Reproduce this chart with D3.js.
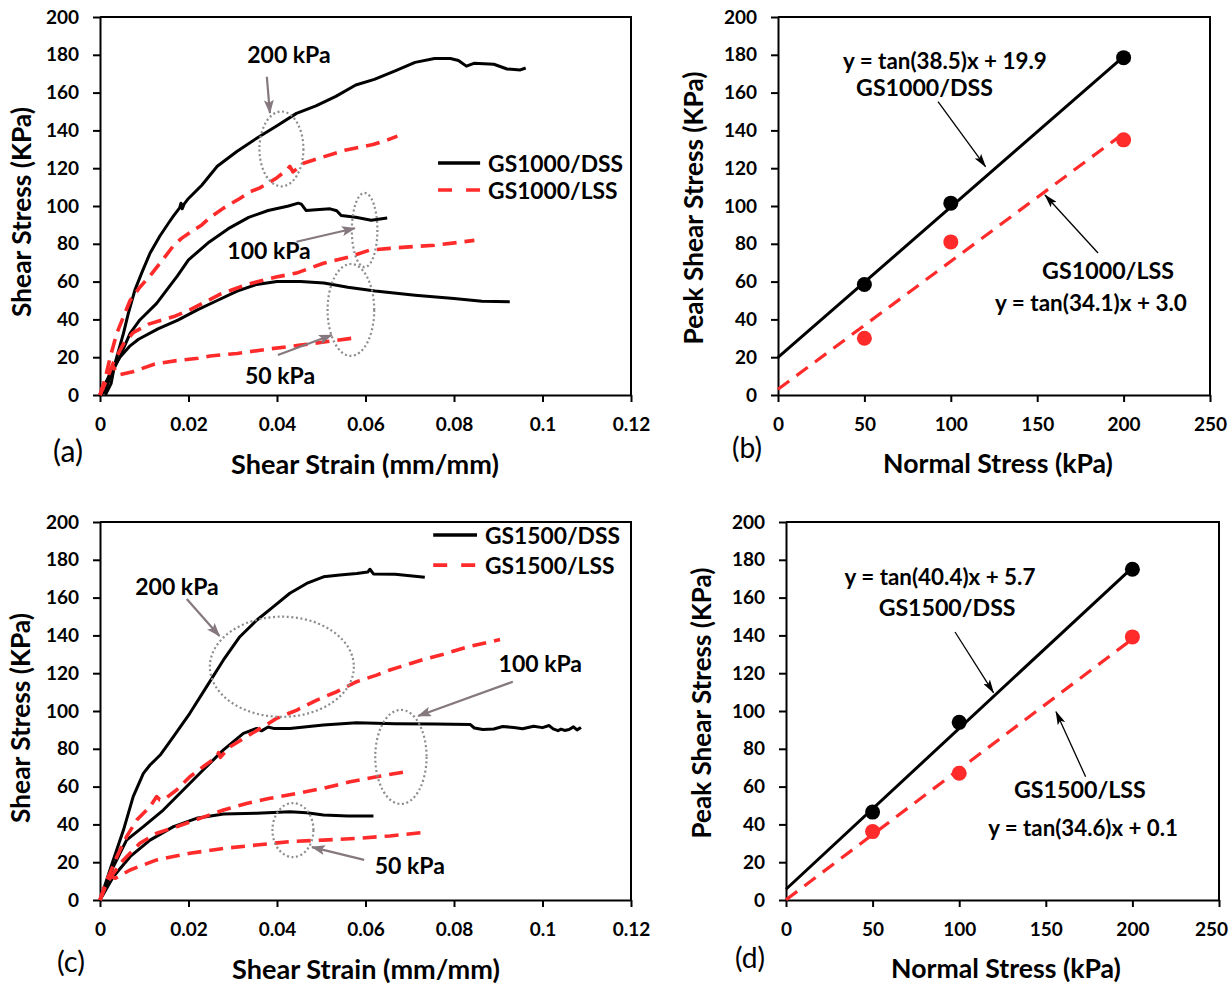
<!DOCTYPE html>
<html><head><meta charset="utf-8">
<script src="https://cdn.jsdelivr.net/npm/d3@7"></script>
<style>body{margin:0;background:#fff;} svg{display:block;}</style>
</head><body><svg id="c" width="1230" height="985"></svg>
<script>
// ---------------- DATA ----------------
const strainTicks = [0, 0.02, 0.04, 0.06, 0.08, 0.1, 0.12];
const strainTickLabels = ["0", "0.02", "0.04", "0.06", "0.08", "0.1", "0.12"];
const stressTicks = [0, 20, 40, 60, 80, 100, 120, 140, 160, 180, 200];
const normalTicks = [0, 50, 100, 150, 200, 250];

// Panel (a): GS1000 stress-strain curves [strain, stress]
const a_dss200 = [[0.0012,0],[0.0025,6],[0.0034,16.9],[0.0053,32.6],[0.0064,43.2],[0.0079,55.6],[0.0095,65],[0.0113,75],[0.0135,84],[0.0155,91],[0.0167,95],[0.018,99],[0.0183,101.5],[0.0186,98.5],[0.019,101],[0.02,104],[0.023,111],[0.0265,121],[0.031,129],[0.0355,136],[0.04,142.5],[0.0444,149],[0.0488,153],[0.0533,158],[0.0578,164],[0.062,167],[0.0667,171.5],[0.0712,176],[0.0756,178],[0.0792,178],[0.081,177],[0.0828,174],[0.0845,175.5],[0.089,175],[0.092,172.5],[0.095,172],[0.0962,173]];
const a_dss100 = [[0,0],[0.0012,2],[0.0023,9.7],[0.0045,20.3],[0.0068,32.6],[0.009,39.7],[0.0128,48.5],[0.0151,55.6],[0.0175,63],[0.02,71.5],[0.0247,81],[0.029,88],[0.0336,94],[0.038,97.6],[0.0426,100],[0.0448,101.5],[0.0455,101],[0.0466,97.6],[0.0488,98],[0.052,98.5],[0.0535,97.5],[0.0545,95],[0.0578,94],[0.0613,92.5],[0.0649,93.6]];
const a_dss50 = [[0,0],[0.0024,12],[0.0045,20],[0.0068,26],[0.0087,29.5],[0.0131,35],[0.0176,39.6],[0.022,45],[0.0265,50],[0.031,55],[0.0354,58.5],[0.04,60],[0.0453,60],[0.0506,59.3],[0.056,57],[0.0622,55],[0.0712,52.8],[0.08,51],[0.0863,49.6],[0.0926,49.3]];
const a_lss200 = [[0,0],[0.0011,8],[0.0023,20],[0.0038,32.6],[0.0053,41.4],[0.0068,50],[0.009,57],[0.0113,63],[0.014,71],[0.0166,79],[0.0185,83],[0.021,87],[0.023,90],[0.0249,94],[0.028,99],[0.0316,104],[0.0339,107.5],[0.036,109.5],[0.038,112],[0.04,115],[0.0422,119],[0.0429,121],[0.0436,118],[0.046,122.6],[0.0505,126],[0.0556,129.6],[0.0617,132.5],[0.065,135],[0.0672,137]];
const a_lss100 = [[0,0],[0.0015,8],[0.003,17],[0.0053,27],[0.0075,33],[0.011,37.5],[0.0145,40],[0.0167,41.5],[0.0203,45],[0.0274,53.6],[0.0338,58.9],[0.0398,62.4],[0.0444,64.5],[0.0505,69.7],[0.0565,73.2],[0.061,76.7],[0.0655,77.6],[0.0712,78.6],[0.0756,79.2],[0.0846,81.8]];
const a_lss50 = [[0,0],[0.001,7],[0.002,13],[0.003,15],[0.0041,10.6],[0.0074,12.3],[0.0124,16.4],[0.0173,18.2],[0.0222,19.4],[0.0249,20.6],[0.031,22],[0.038,24.3],[0.0453,26.4],[0.0506,28],[0.0569,30],[0.0576,30.5]];

// Panel (c): GS1500 stress-strain curves
const c_dss200 = [[0,0],[0.003,21.2],[0.0053,37],[0.0075,54.7],[0.0098,67],[0.0113,71.4],[0.0136,76.7],[0.0166,86.4],[0.0203,98.8],[0.0241,112.9],[0.0279,127],[0.0316,139.3],[0.0354,148],[0.0392,155.2],[0.0429,162.3],[0.0467,167.5],[0.0505,171],[0.0542,172],[0.058,172.8],[0.0605,173.5],[0.061,175],[0.0618,172.5],[0.0667,172.3],[0.0734,170.8]];
const c_dss100 = [[0,0],[0.003,17.6],[0.006,31.7],[0.0098,38.8],[0.0143,47.6],[0.0188,58.2],[0.0233,68.8],[0.0279,79.4],[0.0324,88.2],[0.0354,90.8],[0.0365,89.5],[0.038,91.5],[0.0392,90.8],[0.0429,90.8],[0.0505,92.6],[0.058,93.8],[0.0667,93.3],[0.0756,93.1],[0.0837,92.8],[0.0846,91],[0.0865,90.2],[0.089,90.5],[0.091,91.8],[0.0935,91.3],[0.0955,90.6],[0.098,91.9],[0.1,91.2],[0.1015,92.3],[0.1024,90.5],[0.1035,89.6],[0.1042,90.4],[0.105,89.7],[0.106,90.2],[0.107,91.6],[0.1078,90],[0.1087,91.3]];
const c_dss50 = [[0,0],[0.003,12.3],[0.0068,22.9],[0.0113,31.7],[0.0166,38.8],[0.0218,43.2],[0.0279,45.5],[0.0354,45.9],[0.0429,46.7],[0.0467,46.2],[0.0505,45],[0.056,44.5],[0.0618,44.4]];
const c_lss200 = [[0,0],[0.0015,10],[0.0038,22.9],[0.006,33.5],[0.0083,42.3],[0.0113,49.4],[0.0128,54.7],[0.0135,53],[0.0143,52.9],[0.0173,58.2],[0.0203,65.2],[0.0233,70.5],[0.0264,75.8],[0.0268,78],[0.0272,75.5],[0.0294,81.1],[0.0331,86.4],[0.0369,91.7],[0.0399,96.1],[0.0445,100.5],[0.049,105.8],[0.0535,110.2],[0.058,115.5],[0.0625,119],[0.0655,121.7],[0.073,127.2],[0.0774,129.9],[0.0837,134.3],[0.0904,137.8]];
const c_lss100 = [[0,0],[0.0015,8.8],[0.003,14],[0.0053,21.2],[0.009,30],[0.0128,35.3],[0.0173,38.8],[0.0226,43.2],[0.0279,47.6],[0.0331,51.1],[0.0384,53.8],[0.0445,56.4],[0.0505,59.1],[0.0565,62.6],[0.0625,65.2],[0.0694,68]];
const c_lss50 = [[0,0],[0.001,7],[0.002,13],[0.0035,11.5],[0.0068,15.9],[0.0128,21.2],[0.0203,24.7],[0.0279,27.3],[0.0354,29.1],[0.0429,30.9],[0.0505,31.7],[0.058,32.6],[0.0655,33.9],[0.0738,35.9]];

// Panels (b), (d): peak shear stress vs normal stress
const normalStress = [50, 100, 200];
const b_dssPeak = [58.5, 101.5, 178.5];
const b_lssPeak = [30, 81, 135];
const d_dssPeak = [46.5, 94, 175];
const d_lssPeak = [36.2, 67.1, 139.2];
// fitted lines (endpoints) y = tan(phi)x + c
const b_dssFit = [[0, 19.9], [200, 179.0]];
const b_lssFit = [[0, 3.0], [200, 138.4]];
const d_dssFit = [[0, 5.7], [200, 175.9]];
const d_lssFit = [[0, 0.1], [200, 138.1]];

// ---------------- DRAW ----------------
const FONT = 'Lato, "Open Sans", sans-serif';
const RED = '#ff2a2a';
const GRAY = '#85787e';
const svg = d3.select('#c');
svg.append('rect').attr('width',1230).attr('height',985).attr('fill','#fff');

const defs = svg.append('defs');
defs.append('marker').attr('id','ag').attr('viewBox','0 0 14 10').attr('refX',13).attr('refY',5)
  .attr('markerWidth',14).attr('markerHeight',10).attr('markerUnits','userSpaceOnUse').attr('orient','auto')
  .append('path').attr('d','M0,0 L14,5 L0,10 L3,5 Z').attr('fill',GRAY);
defs.append('marker').attr('id','ab').attr('viewBox','0 0 14 8').attr('refX',13).attr('refY',4)
  .attr('markerWidth',14).attr('markerHeight',8).attr('markerUnits','userSpaceOnUse').attr('orient','auto')
  .append('path').attr('d','M0,0 L14,4 L0,8 L3,4 Z').attr('fill','#000');

function label(g, txt, x, y, o) {
  o = o || {};
  const t = g.append('text').text(txt).attr('x', x).attr('y', y)
    .attr('text-anchor', o.anchor || 'middle').attr('dominant-baseline', 'central')
    .attr('font-family', FONT).attr('font-weight', o.weight || 'bold')
    .attr('font-size', o.size || 20).attr('fill', '#000');
  if (o.width) { const w = t.node().getComputedTextLength(); t.attr('font-size', (o.size || 20) * o.width / w); }
  if (o.rotate) t.attr('transform', `rotate(-90,${x},${y})`);
  return t;
}

function makePanel(box, xDomain, xTicks, xLabels) {
  const x = d3.scaleLinear().domain(xDomain).range([box.l, box.r]);
  const y = d3.scaleLinear().domain([0, 200]).range([box.b, box.t]);
  const g = svg.append('g');
  const ax = g.append('g').attr('transform', `translate(0,${box.b})`)
    .call(d3.axisBottom(x).tickValues(xTicks).tickFormat((d, i) => xLabels[i]).tickSize(7).tickSizeOuter(0).tickPadding(16));
  const ay = g.append('g').attr('transform', `translate(${box.l},0)`)
    .call(d3.axisLeft(y).tickValues(stressTicks).tickFormat(d3.format('d')).tickSize(7).tickSizeOuter(0).tickPadding(14));
  [ax, ay].forEach(a => {
    a.select('.domain').attr('stroke-width', 2);
    a.selectAll('.tick line').attr('stroke-width', 2);
    a.selectAll('text').attr('font-family', FONT).attr('font-weight', 'bold').attr('font-size', 19).attr('fill', '#000');
  });
  g.append('path').attr('d', `M${box.l},${box.t}H${box.r}V${box.b}`).attr('fill', 'none').attr('stroke', '#000').attr('stroke-width', 2);
  return { x, y, g, ax };
}

function curve(p, data, dashed) {
  const line = d3.line().x(d => p.x(d[0])).y(d => p.y(d[1]));
  p.g.append('path').datum(data).attr('d', line).attr('fill', 'none')
    .attr('stroke', dashed ? RED : '#000').attr('stroke-width', dashed ? 3.6 : 3)
    .attr('stroke-dasharray', dashed ? '14,8' : null).attr('stroke-linejoin', 'round');
}
function arrow(p, x1, y1, x2, y2, black) {
  p.g.append('line').attr('x1', p.x(x1)).attr('y1', p.y(y1)).attr('x2', p.x(x2)).attr('y2', p.y(y2))
    .attr('stroke', black ? '#000' : GRAY).attr('stroke-width', black ? 1.3 : 2.2)
    .attr('marker-end', black ? 'url(#ab)' : 'url(#ag)');
}
function ellipse(p, cx, cy, rx, ry) {
  p.g.append('ellipse').attr('cx', p.x(cx)).attr('cy', p.y(cy))
    .attr('rx', Math.abs(p.x(cx + rx) - p.x(cx))).attr('ry', Math.abs(p.y(cy + ry) - p.y(cy)))
    .attr('fill', 'none').attr('stroke', '#8c8c8c').attr('stroke-width', 2.2).attr('stroke-dasharray', '2,2.6');
}
function legend(p, x1, x2, y1, y2, txt1, txt2) {
  p.g.append('line').attr('x1', p.x(x1)).attr('x2', p.x(x2)).attr('y1', p.y(y1)).attr('y2', p.y(y1)).attr('stroke', '#000').attr('stroke-width', 3.5);
  p.g.append('line').attr('x1', p.x(x1)).attr('x2', p.x(x2)).attr('y1', p.y(y2)).attr('y2', p.y(y2)).attr('stroke', RED).attr('stroke-width', 3.6).attr('stroke-dasharray', '14,14');
  const t = label(p.g, txt1, p.x(x2) + 8, p.y(y1), { anchor: 'start', size: 22, width: 135 });
  label(p.g, txt2, p.x(x2) + 8, p.y(y2), { anchor: 'start', size: +t.attr('font-size') });
}
function peakPanel(p, xs, dss, lss, dssFit, lssFit) {
  const line = d3.line().x(d => p.x(d[0])).y(d => p.y(d[1]));
  p.g.append('path').datum(dssFit).attr('d', line).attr('stroke', '#000').attr('stroke-width', 3).attr('fill', 'none');
  p.g.append('path').datum(lssFit).attr('d', line).attr('stroke', RED).attr('stroke-width', 3.2).attr('fill', 'none').attr('stroke-dasharray', '14,9');
  p.g.selectAll(null).data(xs).enter().append('circle').attr('cx', d => p.x(d)).attr('cy', (d, i) => p.y(dss[i])).attr('r', 7.5).attr('fill', '#000');
  p.g.selectAll(null).data(xs).enter().append('circle').attr('cx', d => p.x(d)).attr('cy', (d, i) => p.y(lss[i])).attr('r', 7.5).attr('fill', RED);
}

// ---- Panel (a)
const A = makePanel({ l: 100, r: 631, t: 17, b: 395 }, [0, 0.12], strainTicks, strainTickLabels);
[a_dss200, a_dss100, a_dss50].forEach(d => curve(A, d, false));
[a_lss200, a_lss100, a_lss50].forEach(d => curve(A, d, true));
ellipse(A, 0.041, 130.2, 0.00497, 19.8);
ellipse(A, 0.0598, 87.3, 0.00289, 19.6);
ellipse(A, 0.0567, 45, 0.00527, 24.3);
arrow(A, 0.0377, 168.4, 0.0384, 149.2);
arrow(A, 0.0444, 81.1, 0.0576, 88.2);
arrow(A, 0.0402, 21.2, 0.0524, 31.7);
label(A.g, '200 kPa', A.x(0.0427), A.y(180.4), { size: 23 });
label(A.g, '100 kPa', A.x(0.0382), A.y(76.7), { size: 23 });
label(A.g, '50 kPa', A.x(0.0407), A.y(10.6), { size: 23 });
legend(A, 0.0764, 0.0859, 122.75, 108.5, 'GS1000/DSS', 'GS1000/LSS');
label(A.g, 'Shear Strain (mm/mm)', 365, 463, { size: 24, width: 268 });
label(A.g, 'Shear Stress (KPa)', 21, 212, { size: 24, width: 210, rotate: true });
label(A.g, '(a)', 68, 450, { size: 22, weight: 'normal', width: 30 });

// ---- Panel (b)
const B = makePanel({ l: 778, r: 1210, t: 17, b: 395 }, [0, 250], normalTicks, normalTicks.map(String));
peakPanel(B, normalStress, b_dssPeak, b_lssPeak, b_dssFit, b_lssFit);
label(B.g, 'y = tan(38.5)x + 19.9', B.x(96.6), B.y(177.2), { size: 19, width: 204 });
label(B.g, 'GS1000/DSS', B.x(84.8), B.y(163), { size: 22, width: 137 });
arrow(B, 92.6, 155.2, 120.1, 120.8, true);
label(B.g, 'GS1000/LSS', B.x(191), B.y(66.1), { size: 22, width: 132 });
label(B.g, 'y = tan(34.1)x + 3.0', B.x(181.1), B.y(48.7), { size: 19, width: 192 });
arrow(B, 185.2, 75.1, 154.5, 105.8, true);
label(B.g, 'Normal Stress (kPa)', 998, 463, { size: 24, width: 230 });
label(B.g, 'Peak Shear Stress (KPa)', 693, 208, { size: 24, width: 273, rotate: true });
label(B.g, '(b)', 747, 447, { size: 22, weight: 'normal', width: 30 });

// ---- Panel (c)
const C = makePanel({ l: 100, r: 631, t: 522, b: 900 }, [0, 0.12], strainTicks, strainTickLabels);
[c_dss200, c_dss100, c_dss50].forEach(d => curve(C, d, false));
[c_lss200, c_lss100, c_lss50].forEach(d => curve(C, d, true));
ellipse(C, 0.0411, 123.4, 0.01627, 26.5);
ellipse(C, 0.068, 75.7, 0.0058, 24.9);
ellipse(C, 0.0436, 37, 0.00463, 14.3);
arrow(C, 0.0196, 159.3, 0.027, 139.7);
arrow(C, 0.0933, 115.5, 0.0719, 97.4);
arrow(C, 0.0597, 21.2, 0.0479, 28);
label(C.g, '200 kPa', C.x(0.0174), C.y(166.1), { size: 23 });
label(C.g, '100 kPa', C.x(0.0995), C.y(125.4), { size: 23 });
label(C.g, '50 kPa', C.x(0.07), C.y(18.5), { size: 23 });
legend(C, 0.0753, 0.0852, 193.1, 177.2, 'GS1500/DSS', 'GS1500/LSS');
label(C.g, 'Shear Strain (mm/mm)', 366, 968, { size: 24, width: 268 });
label(C.g, 'Shear Stress (KPa)', 20, 718, { size: 24, width: 210, rotate: true });
label(C.g, '(c)', 71, 960, { size: 22, weight: 'normal', width: 28 });

// ---- Panel (d)
const D = makePanel({ l: 786, r: 1219, t: 522, b: 900 }, [0, 250], normalTicks, normalTicks.map(String));
// keep the last tick label inside the page
D.ax.selectAll('.tick text').filter(d => d === 250).attr('dx', -8);
peakPanel(D, normalStress, d_dssPeak, d_lssPeak, d_dssFit, d_lssFit);
label(D.g, 'y = tan(40.4)x + 5.7', D.x(88.9), D.y(171.4), { size: 19, width: 191 });
label(D.g, 'GS1500/DSS', D.x(93), D.y(155), { size: 22, width: 137 });
arrow(D, 97.6, 141.8, 119.8, 109.7, true);
label(D.g, 'GS1500/LSS', D.x(169.7), D.y(58.7), { size: 22, width: 132 });
label(D.g, 'y = tan(34.6)x + 0.1', D.x(171.5), D.y(38.6), { size: 19, width: 190 });
arrow(D, 173, 65.2, 155.9, 99.6, true);
label(D.g, 'Normal Stress (kPa)', 1006, 968, { size: 24, width: 230 });
label(D.g, 'Peak Shear Stress (KPa)', 701, 703, { size: 24, width: 271, rotate: true });
label(D.g, '(d)', 750, 957, { size: 22, weight: 'normal', width: 30 });
</script></body></html>
